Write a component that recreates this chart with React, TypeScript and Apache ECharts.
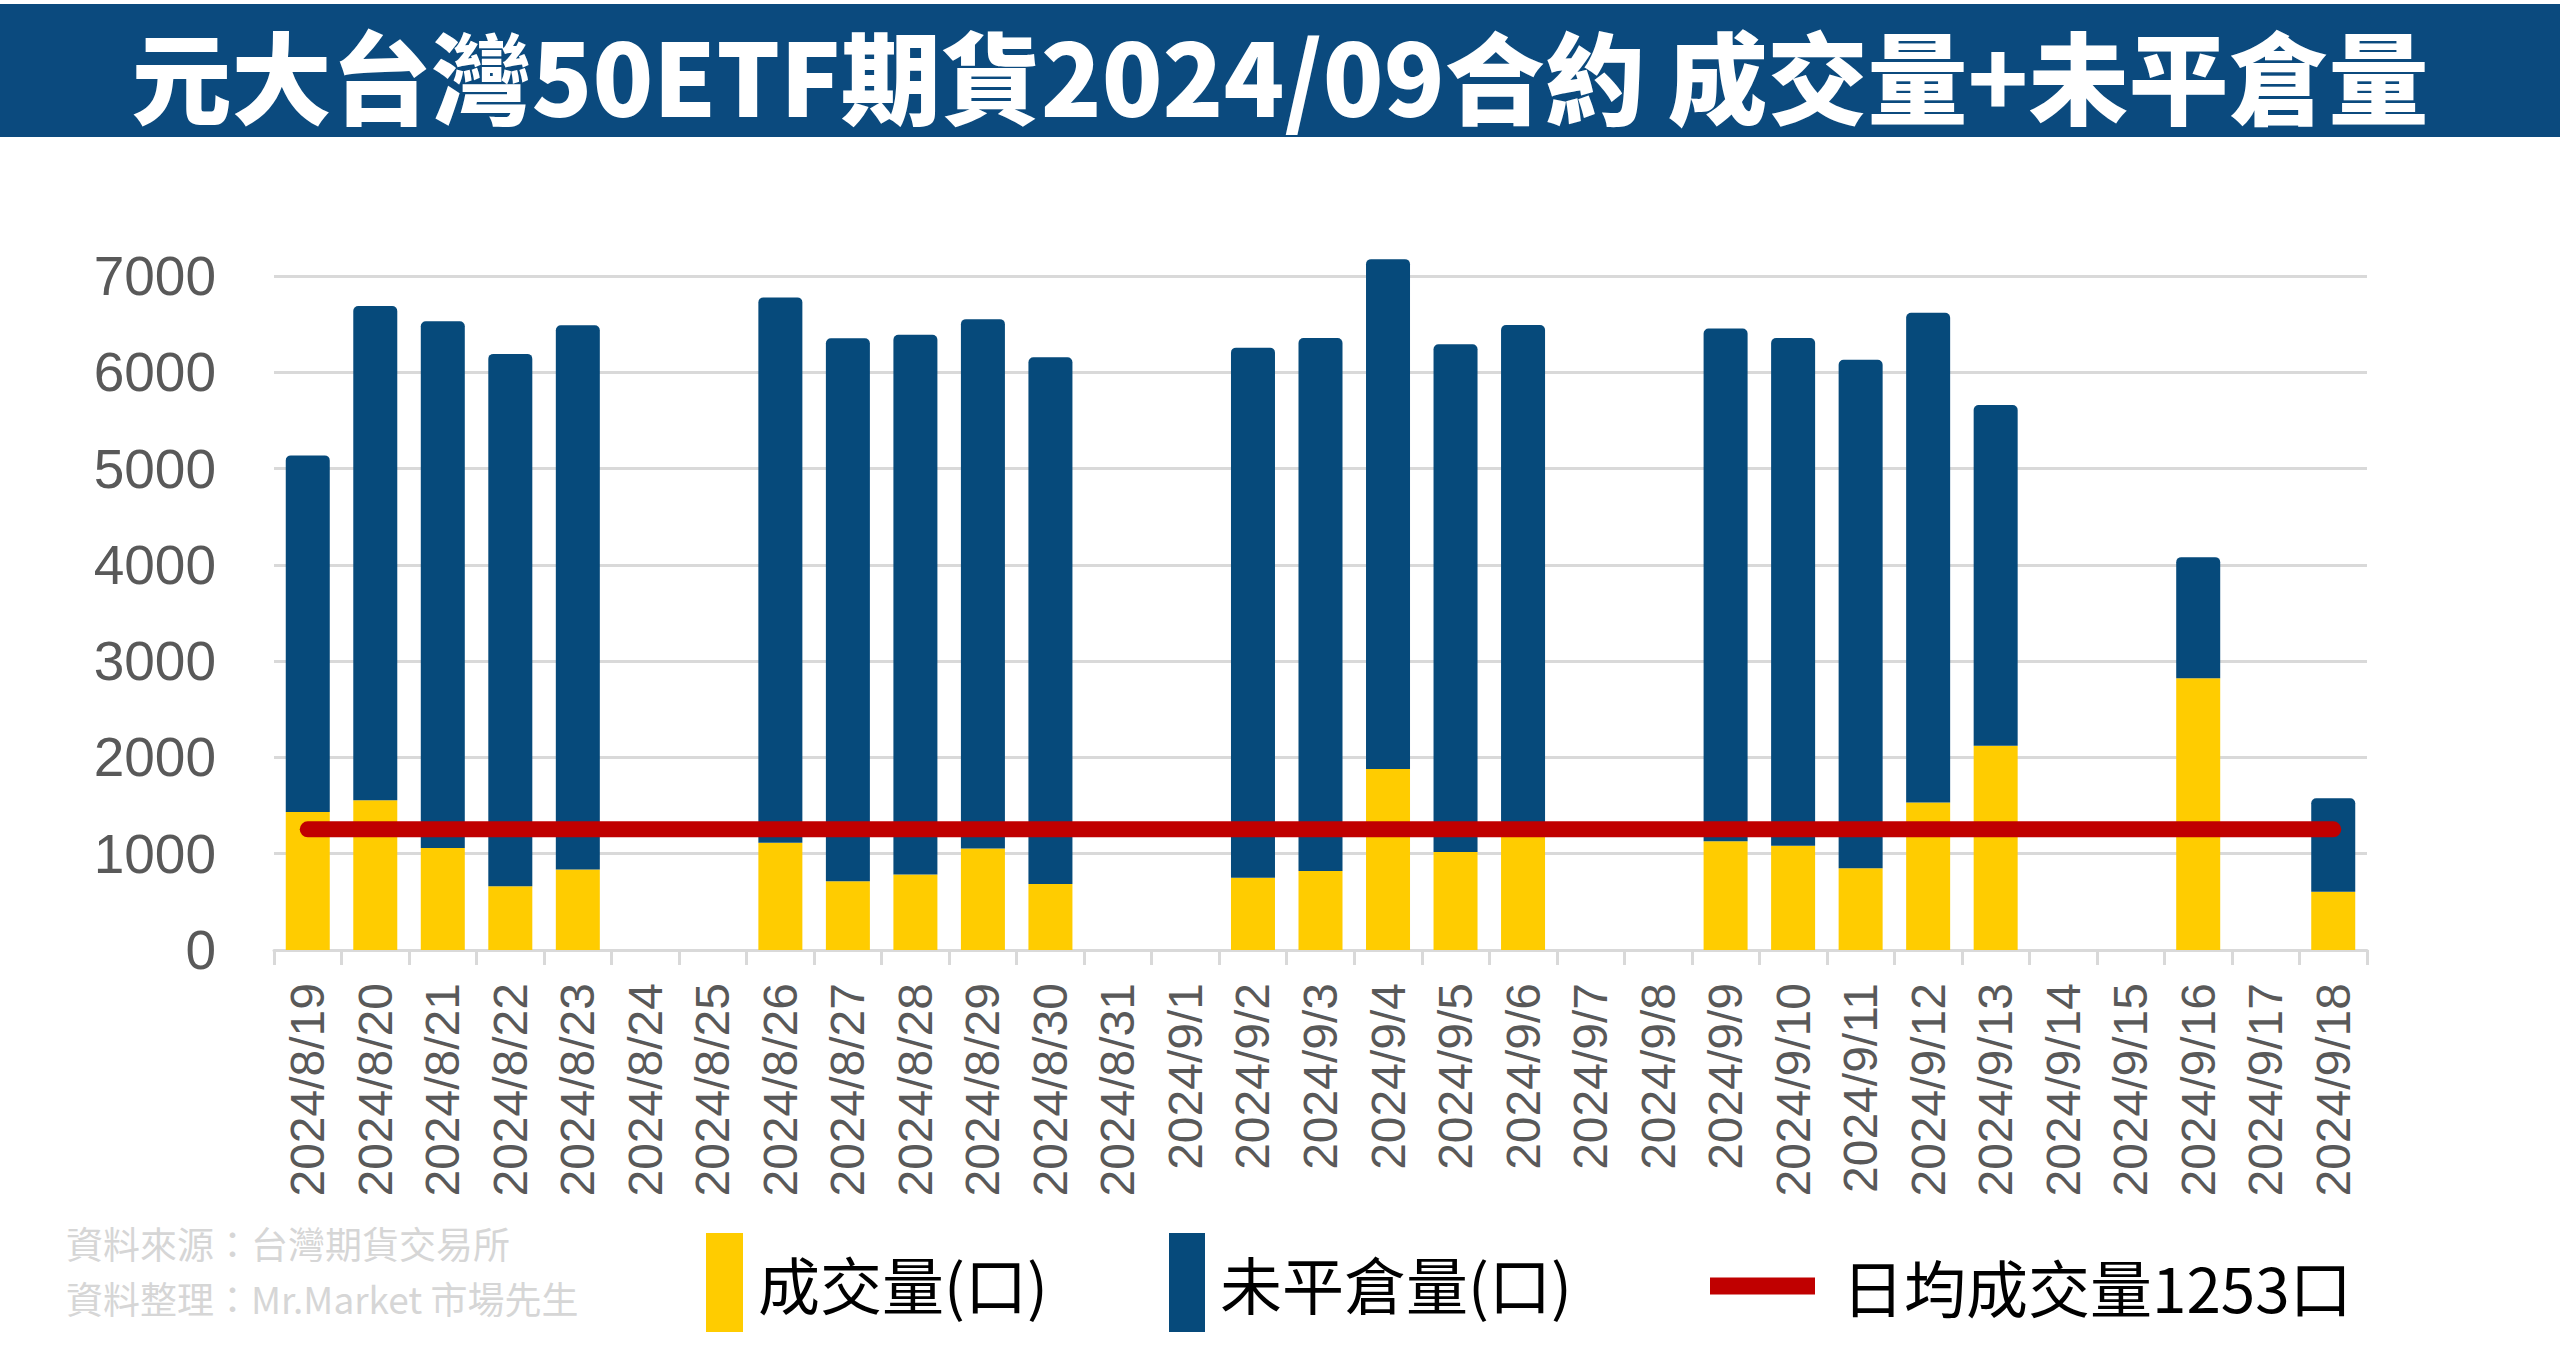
import React, { useEffect, useRef } from "react";
import * as echarts from "echarts";

const title = "元大台灣50ETF期貨2024/09合約 成交量+未平倉量";
const categories = [
  "2024/8/19", "2024/8/20", "2024/8/21", "2024/8/22", "2024/8/23", "2024/8/24", "2024/8/25",
  "2024/8/26", "2024/8/27", "2024/8/28", "2024/8/29", "2024/8/30", "2024/8/31", "2024/9/1",
  "2024/9/2", "2024/9/3", "2024/9/4", "2024/9/5", "2024/9/6", "2024/9/7", "2024/9/8",
  "2024/9/9", "2024/9/10", "2024/9/11", "2024/9/12", "2024/9/13", "2024/9/14", "2024/9/15",
  "2024/9/16", "2024/9/17", "2024/9/18",
];
const volume = [
  1432, 1556, 1059, 661, 835, null, null,
  1115, 714, 783, 1055, 686, null, null,
  751, 820, 1880, 1019, 1240, null, null,
  1130, 1084, 850, 1532, 2120, null, null,
  2823, null, 606,
];
const openInterest = [
  3705, 5132, 5470, 5530, 5654, null, null,
  5663, 5639, 5607, 5497, 5469, null, null,
  5505, 5535, 5295, 5271, 5252, null, null,
  5325, 5271, 5281, 5087, 3539, null, null,
  1257, null, 970,
];
const avgVolume = 1253;
const yTicks = { min: 0, max: 7000, interval: 1000 };
const seriesNames = ["成交量(口)", "未平倉量(口)", "日均成交量1253口"];
const sourceLines = ["資料來源：台灣期貨交易所", "資料整理：Mr.Market 市場先生"];

const YELLOW = "#FFCC00";
const NAVY = "#064A7B";
const RED = "#C00000";
const GRID = "#D9D9D9";
const LABEL = "#595959";
const CJK = "'Noto Sans CJK TC', 'Noto Sans CJK SC', sans-serif";
const LATIN = "'Liberation Sans', Arial, sans-serif";

export default function App() {
  const ref = useRef<HTMLDivElement>(null);
  useEffect(() => {
    if (!ref.current) return;
    const chart = echarts.init(ref.current, undefined, { renderer: "svg" });
    const legendText = { fontFamily: CJK, fontSize: 62, color: "#000", padding: [0, 0, 0, 10] };
    chart.setOption({
      animation: false,
      backgroundColor: "#fff",
      grid: { left: 274, right: 193, top: 276, bottom: 409, containLabel: false },
      xAxis: {
        type: "category",
        data: categories,
        boundaryGap: true,
        axisLine: { show: true, lineStyle: { color: GRID, width: 3 } },
        axisTick: { show: true, length: 15, lineStyle: { color: GRID, width: 3 } },
        axisLabel: {
          interval: 0,
          rotate: 90,
          margin: 33,
          color: LABEL,
          fontFamily: LATIN,
          fontSize: 48,
        },
        splitLine: { show: false },
      },
      yAxis: {
        type: "value",
        min: yTicks.min,
        max: yTicks.max,
        interval: yTicks.interval,
        axisLine: { show: false },
        axisTick: { show: false },
        axisLabel: {
          margin: 58,
          color: LABEL,
          fontFamily: LATIN,
          fontSize: 55,
          formatter: (v: number) => String(v),
        },
        splitLine: { show: true, lineStyle: { color: GRID, width: 3 } },
      },
      legend: [
        {
          data: [{ name: seriesNames[0], icon: "rect" }],
          left: 701, top: 1228, itemWidth: 37, itemHeight: 99,
          textStyle: legendText, selectedMode: false,
        },
        {
          data: [{ name: seriesNames[1], icon: "rect" }],
          left: 1164, top: 1228, itemWidth: 36, itemHeight: 99,
          textStyle: legendText, selectedMode: false,
        },
        {
          data: [{ name: seriesNames[2], icon: "rect" }],
          left: 1705, top: 1250, itemWidth: 105, itemHeight: 17,
          textStyle: { ...legendText, padding: [0, 0, 0, 22] }, selectedMode: false,
        },
      ],
      graphic: [
        {
          type: "rect",
          left: 0, top: 4,
          shape: { width: 2560, height: 133 },
          style: { fill: "#0B4A7E" },
          z: 10,
        },
        {
          type: "text",
          x: 1280, y: 73,
          style: {
            text: title,
            fill: "#fff",
            font: `900 100px ${CJK}`,
            textAlign: "center",
            textVerticalAlign: "middle",
          },
          z: 11,
        },
        {
          type: "text",
          x: 66, y: 1224,
          style: {
            text: sourceLines[0],
            fill: "#D6D6D6",
            font: `400 37px ${CJK}`,
            textAlign: "left",
            textVerticalAlign: "top",
          },
          z: 11,
        },
        {
          type: "text",
          x: 66, y: 1279,
          style: {
            text: sourceLines[1],
            fill: "#D6D6D6",
            font: `400 37px ${CJK}`,
            textAlign: "left",
            textVerticalAlign: "top",
          },
          z: 11,
        },
      ],
      series: [
        {
          name: seriesNames[0],
          type: "bar",
          stack: "total",
          data: volume,
          barWidth: 44,
          clip: false,
          itemStyle: { color: YELLOW },
          z: 2,
        },
        {
          name: seriesNames[1],
          type: "bar",
          stack: "total",
          data: openInterest,
          barWidth: 44,
          clip: false,
          itemStyle: { color: NAVY, borderRadius: [5, 5, 0, 0] },
          z: 2,
        },
        {
          name: seriesNames[2],
          type: "line",
          data: [
            [categories[0], avgVolume],
            [categories[categories.length - 1], avgVolume],
          ],
          showSymbol: false,
          symbol: "none",
          color: RED,
          itemStyle: { color: RED },
          lineStyle: { color: RED, width: 16, cap: "round" },
          z: 5,
        },
      ],
    });
    return () => chart.dispose();
  }, []);
  return (
    <div
      ref={ref}
      style={{ position: "fixed", left: 0, top: 0, width: 2560, height: 1359, background: "#fff" }}
    />
  );
}
